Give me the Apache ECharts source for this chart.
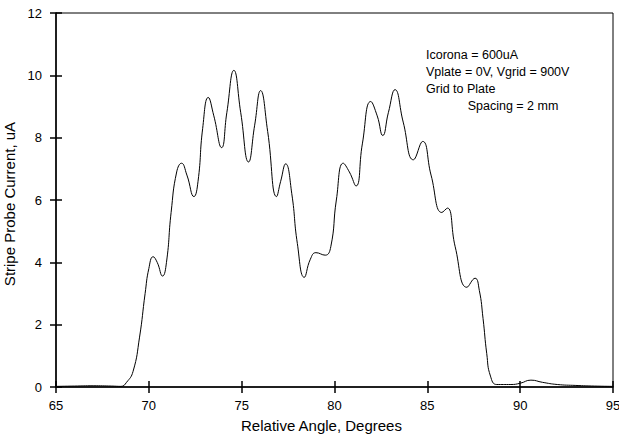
<!DOCTYPE html>
<html>
  <head>
    <meta charset="UTF-8" />
    <script src="https://cdn.jsdelivr.net/npm/echarts@6/dist/echarts.min.js"></script>
    <title>Stripe probe current</title>
  </head>
  <body style="margin: 0">
    <div id="chart" style="width: 619px; height: 439px"></div>
  </body>
</html>

<script>
  // angle (degrees) and probe current (uA)
  const angle = [
    65.0, 66.0, 67.0, 68.0, 68.5, 68.8, 69.15, 69.5, 69.8, 70.0, 70.23, 70.45,
    70.74, 70.95, 71.2, 71.5, 71.76, 72.05, 72.43, 72.65, 72.9, 73.2, 73.5,
    73.92, 74.2, 74.58, 74.95, 75.37, 75.7, 76.02, 76.4, 76.88, 77.1, 77.37,
    77.7, 78.0, 78.37, 78.7, 79.0, 79.5, 79.8, 80.1, 80.47, 80.8, 81.16, 81.5,
    81.95, 82.3, 82.6, 82.9, 83.26, 83.7, 84.25, 84.75, 85.2, 85.78, 86.08,
    86.5, 87.13, 87.57, 87.8, 88.0, 88.2, 88.4, 88.74, 89.5, 90.0, 90.58, 91.2,
    92.0, 93.0, 94.0, 95.0,
  ];
  const current = [
    0.02, 0.03, 0.04, 0.03, 0.02, 0.15, 0.5, 1.6, 3.0, 3.8, 4.18, 4.0, 3.56,
    4.0, 5.6, 6.9, 7.18, 6.8, 6.11, 6.6, 8.3, 9.29, 8.7, 7.68, 8.8, 10.16, 8.8,
    7.22, 8.4, 9.51, 8.2, 6.11, 6.6, 7.16, 6.2, 4.6, 3.52, 4.1, 4.31, 4.23,
    4.5, 6.0, 7.18, 6.9, 6.45, 7.8, 9.16, 8.7, 8.07, 8.8, 9.54, 8.5, 7.29,
    7.88, 6.8, 5.6, 5.74, 4.5, 3.2, 3.49, 3.1, 2.2, 1.07, 0.35, 0.08, 0.08,
    0.12, 0.22, 0.15, 0.08, 0.05, 0.03, 0.02,
  ];
  const noteLines = [
    "Icorona = 600uA",
    "Vplate = 0V, Vgrid = 900V",
    "Grid to Plate",
    "            Spacing = 2 mm",
  ];

  const font = "Liberation Sans, Arial, sans-serif";
  const black = "#000";

  const chart = echarts.init(document.getElementById("chart"), null, { renderer: "svg" });

  const baseX = {
    type: "value",
    min: 65,
    max: 95,
    interval: 5,
    position: "bottom",
    splitLine: { show: false },
  };
  const baseY = {
    type: "value",
    min: 0,
    max: 12,
    interval: 2,
    position: "left",
    splitLine: { show: false },
  };

  chart.setOption({
    animation: false,
    grid: {
      left: 56,
      right: 6,
      top: 13,
      bottom: 52,
      outerBoundsMode: "none",
      containLabel: false,
      show: true,
      borderColor: black,
      borderWidth: 1,
    },
    xAxis: [
      {
        ...baseX,
        name: "Relative Angle, Degrees",
        nameLocation: "middle",
        nameGap: 31,
        nameTextStyle: { fontFamily: font, fontSize: 15, color: black, padding: [0, 26, 0, 0] },
        axisLine: { lineStyle: { color: black, width: 1.5 } },
        axisTick: { length: 6, lineStyle: { color: black, width: 1.5 } },
        axisLabel: { fontFamily: font, fontSize: 13, color: black, margin: 12 },
      },
      {
        ...baseX,
        axisLine: { show: false },
        axisTick: { inside: true, length: 6, lineStyle: { color: black, width: 1.5 } },
        axisLabel: { show: false },
      },
    ],
    yAxis: [
      {
        ...baseY,
        name: "Stripe Probe Current, uA",
        nameLocation: "middle",
        nameGap: 26,
        nameTextStyle: { fontFamily: font, fontSize: 15, color: black, padding: [0, 8, 0, 0] },
        axisLine: { show: true, lineStyle: { color: black, width: 1.5 } },
        axisTick: { show: true, length: 6, lineStyle: { color: black, width: 1.5 } },
        axisLabel: { fontFamily: font, fontSize: 13, color: black, margin: 14 },
      },
      {
        ...baseY,
        axisLine: { show: false },
        axisTick: { show: true, inside: true, length: 6, lineStyle: { color: black, width: 1.5 } },
        axisLabel: { show: false },
      },
    ],
    graphic: [
      {
        type: "text",
        left: 426,
        top: 46,
        style: {
          text: noteLines.join("\n"),
          font: "12.5px " + font,
          lineHeight: 17,
          fill: black,
        },
      },
    ],
    series: [
      {
        type: "line",
        data: angle.map((a, i) => [a, current[i]]),
        smooth: 0.5,
        showSymbol: false,
        lineStyle: { color: black, width: 1 },
      },
    ],
  });
</script>
